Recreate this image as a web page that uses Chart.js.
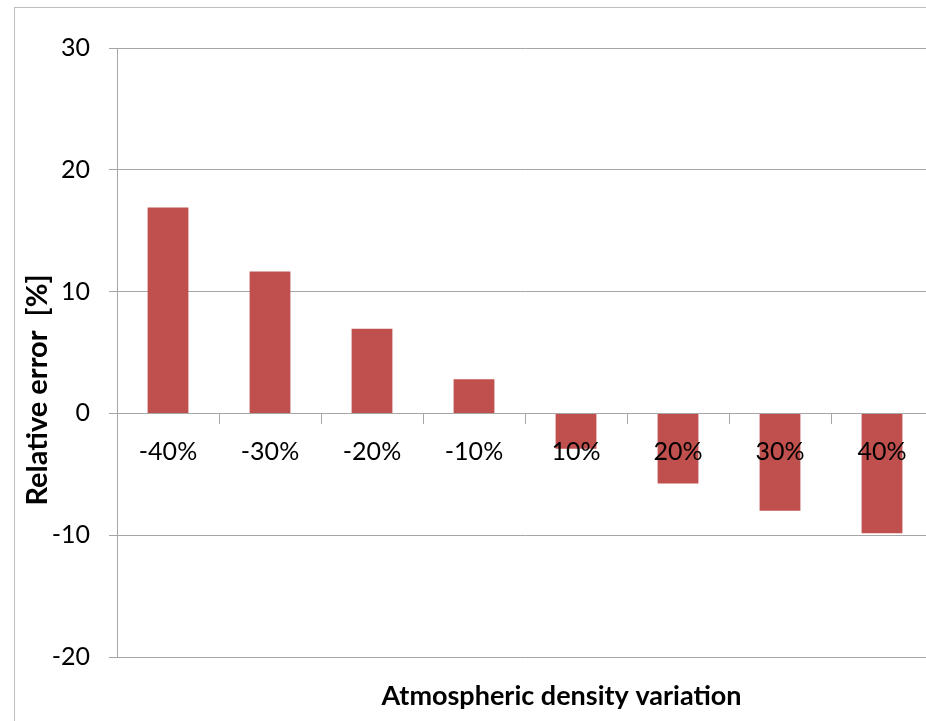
<!DOCTYPE html>
<html>
<head>
<meta charset="utf-8">
<script src="https://cdn.jsdelivr.net/npm/chart.js@4"></script>
<style>
  html, body { margin: 0; padding: 0; background: #fff; overflow: hidden; }
  #frame {
    position: absolute; left: 14px; top: 7px;
    width: 940px; height: 730px;
    border: 1px solid #bfbfbf;
  }
  #chart { display: block; }
</style>
</head>
<body>
<div id="frame"><canvas id="chart" width="940" height="730"></canvas></div>
<script>
// categories and values
const densityLabels = ['-40%', '-30%', '-20%', '-10%', '10%', '20%', '30%', '40%'];
const relativeError = [16.9, 11.65, 6.95, 2.8, -2.9, -5.75, -8.0, -9.85];
const yTicks = [-20, -10, 0, 10, 20, 30];

const xTitle = 'Atmospheric density variation';
const yTitle = 'Relative error  [%]';

const gridColor = '#a6a6a6';
const barColor = '#c0504d';
const fontFamily = 'Lato, "Open Sans", sans-serif';

// draw the two axis titles where the original puts them
const axisTitles = {
    id: 'axisTitles',
    afterDraw(chart) {
        const ctx = chart.ctx;
        ctx.save();
        ctx.fillStyle = '#000';
        ctx.textAlign = 'center';
        ctx.textBaseline = 'alphabetic';
        ctx.font = 'bold 27px ' + fontFamily;
        ctx.fillText(xTitle, 546.5, 697);

        ctx.font = 'bold 29px ' + fontFamily;
        ctx.translate(31.5, 382);
        ctx.rotate(-Math.PI / 2);
        ctx.fillText(yTitle, 0, 0);
        ctx.restore();
    }
};

const ctx = document.getElementById('chart').getContext('2d');
new Chart(ctx, {
    type: 'bar',
    data: {
        labels: densityLabels,
        datasets: [{
            data: relativeError,
            backgroundColor: barColor,
            borderWidth: 0,
            barPercentage: 0.4,
            categoryPercentage: 1.0
        }]
    },
    options: {
        responsive: false,
        animation: false,
        events: [],
        layout: {
            padding: { top: 40, bottom: 81, left: 0, right: 22 }
        },
        plugins: {
            legend: { display: false },
            tooltip: { enabled: false }
        },
        scales: {
            x: {
                type: 'category',
                position: { y: 0 },
                offset: true,
                grid: {
                    offset: true,
                    drawOnChartArea: false,
                    drawTicks: true,
                    tickLength: 10,
                    color: gridColor
                },
                border: { display: true, color: gridColor, width: 1 },
                ticks: {
                    z: 1,
                    color: '#000',
                    padding: 14,
                    maxRotation: 0,
                    autoSkip: false,
                    font: { family: fontFamily, size: 25 }
                }
            },
            y: {
                min: -20,
                max: 30,
                afterFit(scale) { scale.width = 102; },
                afterBuildTicks(scale) {
                    scale.ticks = yTicks.map(v => ({ value: v }));
                },
                grid: {
                    color: gridColor,
                    tickLength: 8
                },
                border: { display: true, color: gridColor, width: 1 },
                ticks: {
                    color: '#000',
                    padding: 19,
                    font: { family: fontFamily, size: 25 }
                }
            }
        }
    },
    plugins: [axisTitles]
});
</script>
</body>
</html>
